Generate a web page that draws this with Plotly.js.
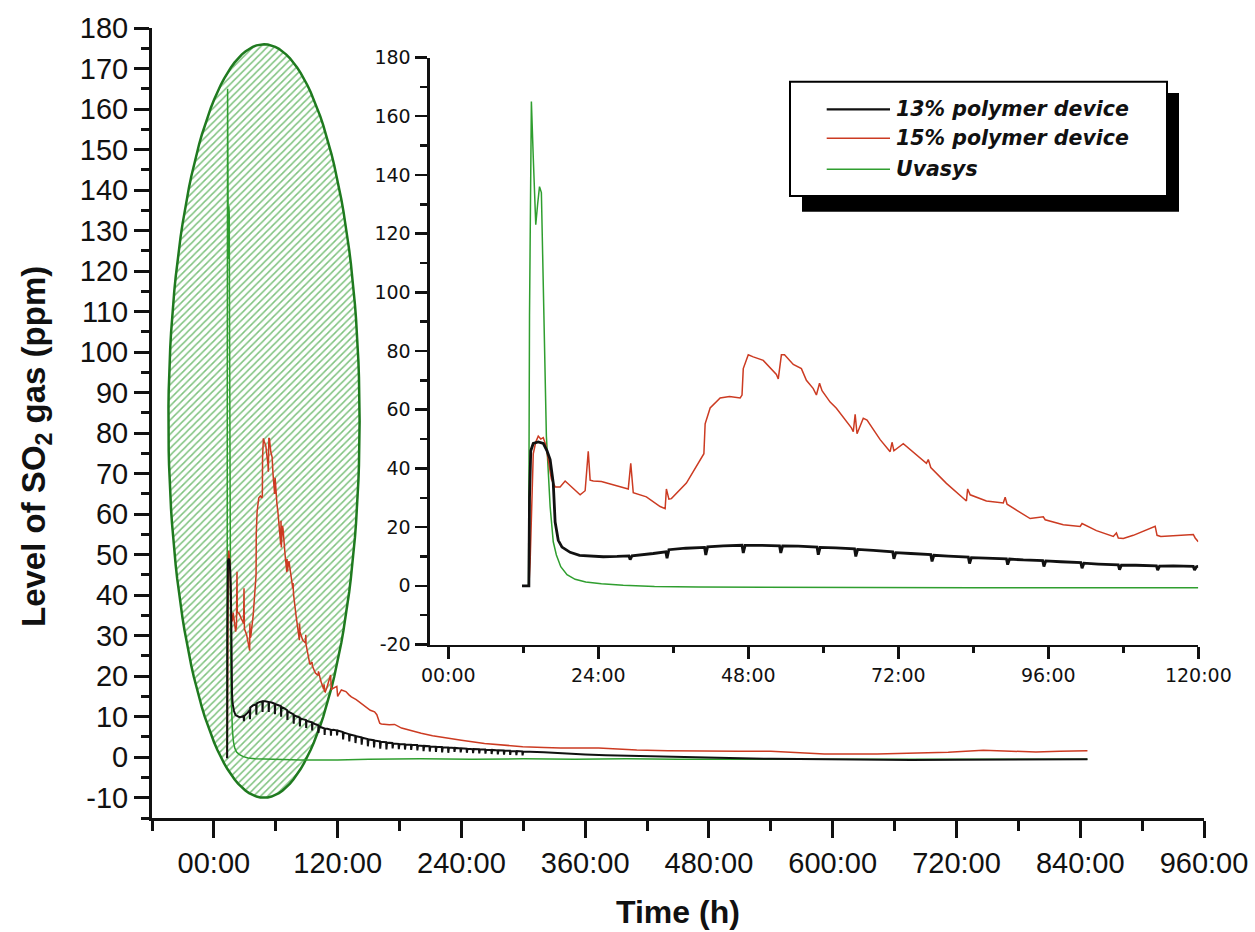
<!DOCTYPE html>
<html>
<head>
<meta charset="utf-8">
<script src="https://cdn.plot.ly/plotly-3.0.1.min.js"></script>
<style>
  html, body { margin: 0; padding: 0; background: #fff; }
  #chart { width: 1255px; height: 932px; }
</style>
</head>
<body>
<div id="chart"></div>
<script>
// ---- Series names ----
const seriesNames = ['13% polymer device', '15% polymer device', 'Uvasys'];

// ---- First 120 h (detail view), hours ----
const hoursUvasys = [11.8, 12.85, 13.0, 13.15, 13.3, 13.6, 14.0, 14.3, 14.6, 14.9, 15.2, 15.7, 16.3, 16.8, 17.3, 18.0, 19.0, 20.3, 22.0, 24.5, 28, 33, 40, 50, 60, 72, 84, 96, 108, 120];
const so2Uvasys  = [0, 0, 92, 140, 165, 146, 123, 130, 136, 134, 105, 51, 27, 15, 10.5, 6.5, 3.8, 2.2, 1.3, 0.7, 0.2, -0.2, -0.4, -0.5, -0.6, -0.6, -0.7, -0.7, -0.7, -0.7];

const hours15 = [11.8, 12.9, 13.1, 13.3, 13.6, 14.0, 14.4, 14.8, 15.2, 15.6, 16.0, 16.5, 17.1, 17.9, 18.7, 19.7, 21.1, 21.9, 22.4, 22.7, 23.2, 24.5, 26.4, 28.8, 29.2, 29.6, 31.7, 33.9, 34.7, 34.9, 35.3, 35.7, 38.1, 40.3, 40.9, 41.1, 41.9, 43.5, 45.0, 46.7, 47.0, 47.2, 48.0, 48.8, 50.4, 52.5, 52.8, 53.3, 53.8, 55.2, 56.5, 57.3, 58.4, 58.9, 59.4, 59.8, 61.1, 62.1, 64.5, 64.8, 65.1, 65.4, 66.4, 67.0, 69.1, 70.7, 71.0, 71.3, 72.8, 76.5, 76.8, 77.2, 79.7, 82.9, 83.1, 83.5, 86.1, 88.8, 89.1, 89.4, 93.1, 95.2, 95.5, 98.4, 101.1, 101.4, 103.7, 106.4, 106.9, 107.2, 108.0, 109.6, 113.1, 113.4, 114.0, 119.2, 119.5, 120];
const so2_15  = [0, 0, 8, 25, 45, 49, 51, 50, 50.5, 48, 43, 36.4, 33.7, 33.7, 35.7, 33.7, 31, 32.4, 45.8, 36, 35.7, 35.5, 34.3, 33, 41.7, 31.7, 30.3, 27, 26.3, 33, 29.5, 29.7, 35, 43, 45, 55.2, 60.6, 64, 64.5, 64, 65, 74, 78.7, 78, 76.8, 72, 70.5, 78.7, 78.7, 75.4, 74, 70, 67.2, 65, 69, 66.5, 62.6, 60.5, 53.8, 52.5, 58.4, 51.8, 57.1, 56.5, 49.8, 45.7, 48.9, 46, 48.4, 41.7, 43, 40.3, 34.9, 28.9, 33, 31, 28.9, 28.2, 30.2, 27.8, 22.9, 23.5, 22.5, 20.8, 20.2, 21.2, 18.8, 16.8, 18.0, 16.3, 16.1, 17.2, 20.3, 17.2, 16.8, 17.5, 16.3, 15];

const hours13 = [11.8, 12.9, 13.0, 13.2, 13.6, 14.4, 15.2, 15.8, 16.3, 16.8, 17.1, 17.6, 18.2, 18.9, 19.5, 21.0, 22.1, 24.8, 27, 28.9, 29.1, 29.4, 32.8, 34.8, 35.0, 35.3, 38, 41.0, 41.2, 41.5, 44, 47.0, 47.2, 47.5, 50, 53.0, 53.2, 53.5, 56, 59.0, 59.2, 59.5, 62, 65.0, 65.2, 65.5, 68, 71.1, 71.3, 71.6, 74, 77.2, 77.4, 77.7, 80, 83.2, 83.4, 83.7, 86, 89.3, 89.5, 89.8, 92, 95.1, 95.3, 95.6, 98, 101.2, 101.4, 101.7, 104, 107.2, 107.4, 107.7, 110, 113.3, 113.5, 113.8, 116, 119.2, 119.4, 119.7, 120];
const so2_13  = [0, 0, 30, 46, 48.5, 49, 48.5, 46, 43, 35, 21.7, 15.5, 13.2, 12.1, 11.4, 10.4, 10.2, 9.9, 10, 10.2, 8.9, 10.2, 11, 11.6, 9.4, 12.3, 12.8, 13.1, 10.5, 13.3, 13.6, 13.8, 11.2, 13.8, 13.8, 13.6, 11.2, 13.6, 13.5, 13.2, 10.6, 13.1, 12.9, 12.6, 10, 12.4, 12.1, 11.6, 9.2, 11.3, 11, 10.6, 8.3, 10.4, 10.1, 9.8, 7.6, 9.6, 9.4, 9.2, 7.2, 9.1, 8.8, 8.6, 6.6, 8.5, 8.2, 7.9, 6.0, 7.7, 7.4, 7.1, 5.5, 7.0, 7.0, 6.8, 5.3, 6.7, 6.8, 6.6, 5.4, 6.5, 6.6];

// ---- Remainder of the run (after 120 h), hours ----
const hoursUvasysLate = [150, 200, 250, 300, 350, 400, 450, 500, 550, 600, 650, 700, 750, 800, 847];
const so2UvasysLate  = [-0.5, -0.4, -0.5, -0.4, -0.5, -0.4, -0.5, -0.5, -0.6, -0.6, -0.5, -0.6, -0.6, -0.5, -0.5];

const hours15Late = [123.6, 128, 131, 133.3, 138, 142.9, 148, 151.7, 155.8, 158, 160.8, 162.3, 170, 175.2, 182, 188.4, 195, 201, 212, 225.5, 240, 262.4, 280, 299.4, 320, 336.3, 373, 410, 440, 465.6, 509, 540, 570, 592, 643, 680, 712, 746, 770, 797, 820, 847];
const so2_15Late  = [16.6, 16.2, 15.4, 14.9, 14.2, 13.3, 12.5, 11.6, 11.2, 10.5, 8.4, 8.2, 8.0, 8.1, 7.2, 6.7, 6.2, 5.9, 5.3, 4.7, 4.2, 3.4, 3.0, 2.6, 2.4, 2.3, 2.3, 1.8, 1.6, 1.5, 1.5, 1.5, 1.2, 0.8, 0.8, 1.0, 1.2, 1.7, 1.5, 1.3, 1.5, 1.6];

const hours13Late = [125.0, 125.3, 125.9, 131.0, 131.3, 131.9, 137.0, 137.3, 137.9, 143.0, 143.3, 143.9, 149.0, 149.3, 149.9, 155.0, 155.3, 155.9, 161.0, 161.3, 161.9, 167.0, 167.3, 167.9, 173.0, 173.3, 173.9, 179.0, 179.3, 179.9, 185.0, 185.3, 185.9, 191.0, 191.3, 191.9, 197.0, 197.3, 197.9, 203.0, 203.3, 203.9, 209.0, 209.3, 209.9, 215.0, 215.3, 215.9, 221.0, 221.3, 221.9, 227.0, 227.3, 227.9, 233.0, 233.3, 233.9, 239.0, 239.3, 239.9, 245.0, 245.3, 245.9, 251.0, 251.3, 251.9, 257.0, 257.3, 257.9, 263.0, 263.3, 263.9, 269.0, 269.3, 269.9, 275.0, 275.3, 275.9, 281.0, 281.3, 281.9, 287.0, 287.3, 287.9, 293.0, 293.3, 293.9, 299.0, 299.3, 299.9, 320, 340, 360, 380, 410, 450, 500, 540, 575, 620, 676, 720, 760, 800, 847];
const so2_13Late  = [6.2, 4.4, 6.1, 5.7, 3.9, 5.6, 5.3, 3.5, 5.2, 4.9, 3.1, 4.8, 4.5, 2.7, 4.4, 4.2, 2.4, 4.1, 3.9, 2.1, 3.8, 3.7, 1.9, 3.6, 3.5, 2.2, 3.4, 3.3, 2.0, 3.2, 3.2, 1.9, 3.1, 3.1, 1.8, 3.0, 3.0, 1.7, 2.9, 2.8, 1.5, 2.8, 2.7, 1.4, 2.6, 2.6, 1.3, 2.5, 2.5, 1.2, 2.4, 2.4, 1.1, 2.4, 2.3, 1.3, 2.3, 2.2, 1.2, 2.2, 2.1, 1.1, 2.1, 2.0, 1.0, 2.0, 1.95, 0.95, 1.9, 1.9, 0.9, 1.85, 1.8, 0.8, 1.8, 1.7, 0.7, 1.7, 1.65, 0.65, 1.6, 1.6, 0.6, 1.55, 1.5, 0.5, 1.5, 1.45, 0.45, 1.4, 1.2, 0.9, 0.7, 0.5, 0.3, 0.0, -0.2, -0.4, -0.5, -0.6, -0.7, -0.6, -0.6, -0.6, -0.5];

// ---- Tick labels ----
const mainXTickVals = [0, 120, 240, 360, 480, 600, 720, 840, 960];
const mainXTickText = ['00:00', '120:00', '240:00', '360:00', '480:00', '600:00', '720:00', '840:00', '960:00'];
const mainYTickVals = [-10, 0, 10, 20, 30, 40, 50, 60, 70, 80, 90, 100, 110, 120, 130, 140, 150, 160, 170, 180];
const mainYTickText = ['-10', '0', '10', '20', '30', '40', '50', '60', '70', '80', '90', '100', '110', '120', '130', '140', '150', '160', '170', '180'];
const insetXTickVals = [0, 24, 48, 72, 96, 120];
const insetXTickText = ['00:00', '24:00', '48:00', '72:00', '96:00', '120:00'];
const insetYTickVals = [-20, 0, 20, 40, 60, 80, 100, 120, 140, 160, 180];
const insetYTickText = ['-20', '0', '20', '40', '60', '80', '100', '120', '140', '160', '180'];

// ---- Highlight ellipse around the first days (hours, ppm) ----
const highlight = { cx: 48.6, cy: 83, rx: 92.7, ry: 93 };

// ---- Styling ----
const COLORS = { c13: '#111111', c15: '#cc3b22', uv: '#2f9e2f', ring: '#1f7a1f', hatch: '#7fc27f' };
const W = 1255, H = 932;
const M = { l: 152, r: 51, t: 28, b: 114 };
const PW = W - M.l - M.r, PH = H - M.t - M.b;
const px = x => (x - M.l) / PW;          // pixel -> paper x
const py = y => (H - M.b - y) / PH;      // pixel -> paper y

const ellX = [], ellY = [];
for (let i = 0; i <= 160; i++) {
  const a = 2 * Math.PI * i / 160;
  ellX.push(highlight.cx + highlight.rx * Math.cos(a));
  ellY.push(highlight.cy + highlight.ry * Math.sin(a));
}

const traces = [
  {
    x: ellX, y: ellY, xaxis: 'x', yaxis: 'y', mode: 'lines', fill: 'toself',
    fillcolor: 'rgba(255,255,255,0)',
    fillpattern: { shape: '/', fgcolor: COLORS.hatch, bgcolor: 'rgba(255,255,255,0)', size: 5, solidity: 0.3 },
    line: { color: COLORS.ring, width: 2.5 }, hoverinfo: 'skip', showlegend: false
  },
  // full run
  { x: hoursUvasys.concat(hoursUvasysLate), y: so2Uvasys.concat(so2UvasysLate), xaxis: 'x', yaxis: 'y',
    mode: 'lines', line: { color: COLORS.uv, width: 1.5 }, name: seriesNames[2], showlegend: false },
  { x: hours15.concat(hours15Late), y: so2_15.concat(so2_15Late), xaxis: 'x', yaxis: 'y',
    mode: 'lines', line: { color: COLORS.c15, width: 1.5 }, name: seriesNames[1], showlegend: false },
  { x: hours13.concat(hours13Late), y: so2_13.concat(so2_13Late), xaxis: 'x', yaxis: 'y',
    mode: 'lines', line: { color: COLORS.c13, width: 2 }, name: seriesNames[0], showlegend: false },
  // first 120 h
  { x: hoursUvasys, y: so2Uvasys, xaxis: 'x2', yaxis: 'y2',
    mode: 'lines', line: { color: COLORS.uv, width: 1.5 }, name: seriesNames[2], showlegend: false },
  { x: hours15, y: so2_15, xaxis: 'x2', yaxis: 'y2',
    mode: 'lines', line: { color: COLORS.c15, width: 1.5 }, name: seriesNames[1], showlegend: false },
  { x: hours13, y: so2_13, xaxis: 'x2', yaxis: 'y2',
    mode: 'lines', line: { color: COLORS.c13, width: 2.8 }, name: seriesNames[0], showlegend: false }
];

const mainFont = { family: 'Liberation Sans, Arial, sans-serif', size: 29, color: '#111' };
const insetFont = { family: 'DejaVu Sans, sans-serif', size: 19, color: '#111' };

const layout = {
  width: W, height: H,
  margin: M,
  paper_bgcolor: '#fff', plot_bgcolor: 'rgba(0,0,0,0)',
  showlegend: false, hovermode: false,
  xaxis: {
    domain: [0, 1], range: [-60, 960], anchor: 'y',
    showline: true, linewidth: 3, linecolor: '#111', showgrid: false, zeroline: false,
    tickmode: 'array', tickvals: mainXTickVals, ticktext: mainXTickText,
    ticks: 'outside', ticklen: 17, tickwidth: 3, tickcolor: '#111',
    minor: { tickmode: 'linear', tick0: 0, dtick: 60, ticks: 'outside', ticklen: 10, tickwidth: 3, tickcolor: '#111', showgrid: false },
    tickfont: mainFont
  },
  yaxis: {
    domain: [0, 1], range: [-15, 180], anchor: 'x',
    showline: true, linewidth: 3, linecolor: '#111', showgrid: false, zeroline: false,
    tickmode: 'array', tickvals: mainYTickVals, ticktext: mainYTickText,
    ticks: 'outside', ticklen: 15, tickwidth: 3, tickcolor: '#111',
    minor: { tickmode: 'linear', tick0: 0, dtick: 5, ticks: 'outside', ticklen: 8, tickwidth: 3, tickcolor: '#111', showgrid: false },
    tickfont: mainFont
  },
  xaxis2: {
    domain: [px(429.5), px(1198.3)], range: [-3, 120], anchor: 'y2',
    showline: true, linewidth: 2.5, linecolor: '#111', showgrid: false, zeroline: false,
    tickmode: 'array', tickvals: insetXTickVals, ticktext: insetXTickText,
    ticks: 'outside', ticklen: 12, tickwidth: 2.5, tickcolor: '#111',
    minor: { tickmode: 'linear', tick0: 0, dtick: 12, ticks: 'outside', ticklen: 6, tickwidth: 2.5, tickcolor: '#111', showgrid: false },
    tickfont: insetFont
  },
  yaxis2: {
    domain: [py(644.5), py(57.5)], range: [-20, 180], anchor: 'x2',
    showline: true, linewidth: 3, linecolor: '#111', showgrid: false, zeroline: false,
    tickmode: 'array', tickvals: insetYTickVals, ticktext: insetYTickText,
    ticks: 'outside', ticklen: 12, tickwidth: 2.5, tickcolor: '#111',
    minor: { tickmode: 'linear', tick0: 0, dtick: 10, ticks: 'outside', ticklen: 7, tickwidth: 2.5, tickcolor: '#111', showgrid: false },
    tickfont: insetFont
  },
  shapes: [
    // legend box with drop shadow
    { type: 'rect', xref: 'paper', yref: 'paper', x0: px(802), x1: px(1179), y0: py(211.7), y1: py(93),
      fillcolor: '#000', line: { width: 0 }, layer: 'above' },
    { type: 'rect', xref: 'paper', yref: 'paper', x0: px(790), x1: px(1167), y0: py(196), y1: py(81.7),
      fillcolor: '#fff', line: { color: '#000', width: 2 }, layer: 'above' },
    { type: 'line', xref: 'paper', yref: 'paper', x0: px(826.7), x1: px(890), y0: py(109.3), y1: py(109.3),
      line: { color: COLORS.c13, width: 2.2 }, layer: 'above' },
    { type: 'line', xref: 'paper', yref: 'paper', x0: px(826.7), x1: px(890), y0: py(138.3), y1: py(138.3),
      line: { color: COLORS.c15, width: 1.6 }, layer: 'above' },
    { type: 'line', xref: 'paper', yref: 'paper', x0: px(826.7), x1: px(890), y0: py(169.3), y1: py(169.3),
      line: { color: COLORS.uv, width: 1.6 }, layer: 'above' }
  ],
  annotations: [
    { text: 'Time (h)', xref: 'paper', yref: 'paper', x: 0.5, y: py(912), xanchor: 'center', yanchor: 'middle',
      showarrow: false, font: { family: 'Liberation Sans, Arial, sans-serif', size: 32, color: '#111', weight: 'bold' } },
    { text: 'Level of SO<sub>2</sub> gas (ppm)', xref: 'paper', yref: 'paper', x: px(36), y: py(447),
      xanchor: 'center', yanchor: 'middle', textangle: -90, showarrow: false,
      font: { family: 'Liberation Sans, Arial, sans-serif', size: 33, color: '#111', weight: 'bold' } }
  ].concat(seriesNames.map((name, i) => ({
    text: name, xref: 'paper', yref: 'paper', x: px(894), y: py([109.3, 138.3, 169.3][i]),
    xanchor: 'left', yanchor: 'middle', showarrow: false,
    font: { family: 'DejaVu Sans, sans-serif', size: 20.5, color: '#111', weight: 'bold', style: 'italic' }
  })))
};

Plotly.newPlot('chart', traces, layout, { displayModeBar: false, staticPlot: true });
</script>
</body>
</html>
